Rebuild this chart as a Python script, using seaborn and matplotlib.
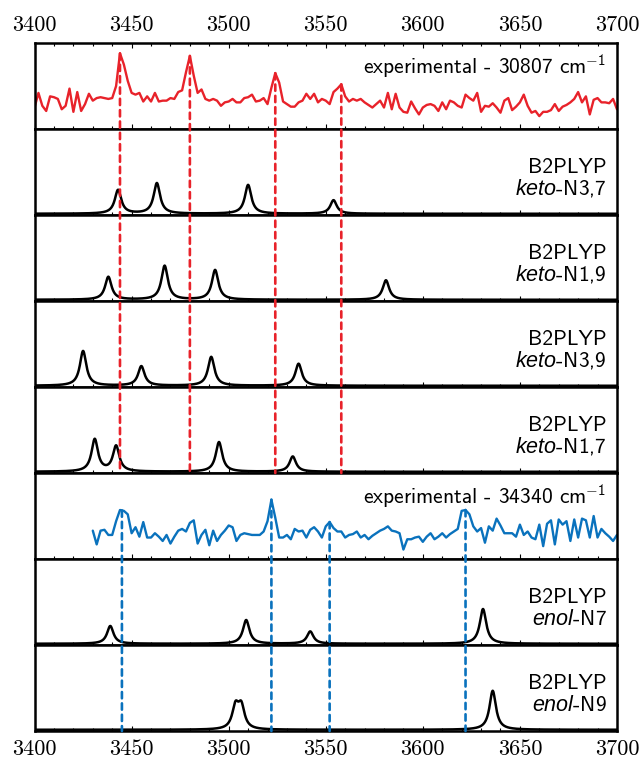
import numpy as np
import matplotlib
matplotlib.use('Agg')
import matplotlib.pyplot as plt
import seaborn as sns
from matplotlib.patches import ConnectionPatch
from matplotlib.ticker import MultipleLocator

# Experimental traces (2 cm-1 grid)
# ========================================================
red_x = np.arange(3400, 3701, 2)
red_y = [0.25, 0.42, 0.27, 0.21, 0.38, 0.37, 0.35, 0.23, 0.27, 0.47,
         0.20, 0.43, 0.21, 0.29, 0.41, 0.33, 0.36, 0.37, 0.36, 0.35,
         0.36, 0.50, 0.88, 0.75, 0.56, 0.42, 0.40, 0.42, 0.32, 0.38,
         0.32, 0.42, 0.32, 0.33, 0.33, 0.36, 0.35, 0.43, 0.45, 0.66,
         0.85, 0.62, 0.42, 0.46, 0.35, 0.33, 0.35, 0.33, 0.27, 0.31,
         0.32, 0.35, 0.31, 0.31, 0.36, 0.37, 0.40, 0.32, 0.33, 0.36,
         0.29, 0.48, 0.65, 0.54, 0.32, 0.29, 0.26, 0.26, 0.31, 0.33,
         0.41, 0.35, 0.41, 0.31, 0.35, 0.33, 0.29, 0.43, 0.47, 0.52,
         0.38, 0.32, 0.35, 0.33, 0.35, 0.31, 0.28, 0.25, 0.29, 0.33,
         0.25, 0.42, 0.23, 0.41, 0.25, 0.20, 0.19, 0.32, 0.24, 0.17,
         0.25, 0.28, 0.29, 0.27, 0.21, 0.31, 0.23, 0.33, 0.31, 0.27,
         0.25, 0.40, 0.36, 0.33, 0.42, 0.20, 0.27, 0.26, 0.30, 0.25,
         0.19, 0.33, 0.36, 0.22, 0.26, 0.31, 0.40, 0.27, 0.19, 0.21,
         0.15, 0.20, 0.20, 0.22, 0.29, 0.21, 0.26, 0.28, 0.31, 0.35,
         0.43, 0.31, 0.38, 0.17, 0.34, 0.36, 0.31, 0.31, 0.30, 0.35,
         0.23]

blue_x = np.arange(3430, 3701, 2)
blue_y = [0.33, 0.17, 0.33, 0.34, 0.28, 0.28, 0.44, 0.57, 0.56, 0.52,
          0.30, 0.37, 0.26, 0.43, 0.25, 0.25, 0.30, 0.26, 0.21, 0.28,
          0.18, 0.26, 0.33, 0.35, 0.32, 0.42, 0.45, 0.18, 0.28, 0.34,
          0.16, 0.33, 0.21, 0.28, 0.33, 0.39, 0.37, 0.21, 0.28, 0.30,
          0.29, 0.28, 0.28, 0.28, 0.32, 0.44, 0.69, 0.48, 0.25, 0.25,
          0.28, 0.23, 0.35, 0.32, 0.33, 0.25, 0.34, 0.37, 0.32, 0.25,
          0.38, 0.43, 0.36, 0.32, 0.32, 0.25, 0.28, 0.29, 0.32, 0.25,
          0.28, 0.23, 0.27, 0.30, 0.33, 0.35, 0.38, 0.33, 0.32, 0.30,
          0.11, 0.23, 0.23, 0.25, 0.26, 0.20, 0.26, 0.30, 0.23, 0.26,
          0.30, 0.25, 0.29, 0.32, 0.35, 0.56, 0.57, 0.52, 0.38, 0.32,
          0.36, 0.19, 0.38, 0.33, 0.47, 0.39, 0.30, 0.30, 0.30, 0.26,
          0.40, 0.28, 0.32, 0.25, 0.23, 0.40, 0.15, 0.41, 0.45, 0.17,
          0.46, 0.40, 0.44, 0.21, 0.46, 0.25, 0.47, 0.45, 0.25, 0.50,
          0.25, 0.35, 0.30, 0.26, 0.21, 0.28]

# Computed B2PLYP bands: positions (cm-1) and relative intensities
# ========================================================
keto_n37_pos = [3443, 3463, 3510, 3554]
keto_n37_int = [0.28, 0.36, 0.34, 0.16]
keto_n19_pos = [3438, 3467, 3493, 3581]
keto_n19_int = [0.27, 0.40, 0.35, 0.23]
keto_n39_pos = [3425, 3455, 3491, 3536]
keto_n39_int = [0.41, 0.23, 0.34, 0.26]
keto_n17_pos = [3431, 3442, 3495, 3533]
keto_n17_int = [0.38, 0.30, 0.35, 0.18]
enol_n7_pos = [3439, 3509, 3542, 3631]
enol_n7_int = [0.21, 0.28, 0.145, 0.41]
enol_n9_pos = [3503.5, 3506.5, 3636]
enol_n9_int = [0.26, 0.26, 0.46]

red_lines = [3444, 3480, 3524, 3558]
blue_lines = [3445, 3522, 3552, 3622]

RED = '#e8222a'
BLUE = '#0a72bd'


def lorentz(x, pos, inten, fwhm=4.0):
    g = fwhm / 2.0
    y = np.zeros_like(x)
    for p, h in zip(pos, inten):
        y += h / (1.0 + ((x - p) / g) ** 2)
    return y


# Style
# ========================================================
sns.set_theme(style='ticks')
plt.rcParams['font.family'] = ['cmss10', 'DejaVu Sans']
plt.rcParams['mathtext.fontset'] = 'custom'
plt.rcParams['mathtext.rm'] = 'cmss10'
plt.rcParams['mathtext.it'] = 'Liberation Sans:italic'
plt.rcParams['text.color'] = 'black'
plt.rcParams['axes.linewidth'] = 1.8

fig, axes = plt.subplots(8, 1, sharex=True, figsize=(6.4, 7.63), dpi=100)
fig.subplots_adjust(left=0.054, right=0.964, top=0.9436, bottom=0.0419, hspace=0)

xs = np.linspace(3400, 3700, 3001)
calc = [
    (keto_n37_pos, keto_n37_int, r'$\mathit{keto}$-N3,7'),
    (keto_n19_pos, keto_n19_int, r'$\mathit{keto}$-N1,9'),
    (keto_n39_pos, keto_n39_int, r'$\mathit{keto}$-N3,9'),
    (keto_n17_pos, keto_n17_int, r'$\mathit{keto}$-N1,7'),
    (enol_n7_pos, enol_n7_int, r'$\mathit{enol}$-N7'),
    (enol_n9_pos, enol_n9_int, r'$\mathit{enol}$-N9'),
]
calc_axes = [axes[1], axes[2], axes[3], axes[4], axes[6], axes[7]]

# experimental panels
sns.lineplot(x=red_x, y=red_y, ax=axes[0], color=RED, lw=1.7, estimator=None)
axes[0].text(0.982, 0.64, r'experimental - 30807 cm$^{-1}$', transform=axes[0].transAxes,
             ha='right', va='baseline', fontsize=15.5, color='black')
sns.lineplot(x=blue_x, y=blue_y, ax=axes[5], color=BLUE, lw=1.7, estimator=None)
axes[5].text(0.982, 0.64, r'experimental - 34340 cm$^{-1}$', transform=axes[5].transAxes,
             ha='right', va='baseline', fontsize=15.5, color='black')
for ax in (axes[0], axes[5]):
    ax.set_ylim(0, 1)

# computed panels
for ax, (pos, inten, lab) in zip(calc_axes, calc):
    sns.lineplot(x=xs, y=lorentz(xs, pos, inten), ax=ax, color='black', lw=1.8, estimator=None)
    ax.set_ylim(-0.015, 1)
    ax.text(0.982, 0.49, 'B2PLYP', transform=ax.transAxes, ha='right', va='baseline',
            fontsize=15.5, color='black')
    ax.text(0.982, 0.233, lab, transform=ax.transAxes, ha='right', va='baseline',
            fontsize=15.5, color='black')

for i, ax in enumerate(axes):
    ax.set_xlim(3400, 3700)
    ax.set_yticks([])
    ax.set_ylabel('')
    ax.xaxis.set_major_locator(MultipleLocator(50))
    ax.xaxis.set_minor_locator(MultipleLocator(10))
    ax.tick_params(axis='x', which='both', direction='in', top=(i == 0), bottom=True,
                   labeltop=(i == 0), labelbottom=(i == 7), width=0.8,
                   labelsize=16, labelfontfamily='cmr10', pad=6, colors='black')
    ax.tick_params(axis='x', which='major', length=3.8)
    ax.tick_params(axis='x', which='minor', length=1.9)
    for s in ax.spines.values():
        s.set_linewidth(1.8)
        s.set_color('black')

# dashed guide lines across panels
for x in red_lines:
    con = ConnectionPatch(xyA=(x, np.interp(x, red_x, red_y)), coordsA='data', axesA=axes[0],
                          xyB=(x, axes[4].get_ylim()[0]), coordsB='data', axesB=axes[4],
                          color=RED, lw=1.9, linestyle=(0, (2.4, 1.9)))
    fig.add_artist(con)
for x in blue_lines:
    con = ConnectionPatch(xyA=(x, np.interp(x, blue_x, blue_y)), coordsA='data', axesA=axes[5],
                          xyB=(x, axes[7].get_ylim()[0]), coordsB='data', axesB=axes[7],
                          color=BLUE, lw=1.9, linestyle=(0, (2.4, 1.9)))
    fig.add_artist(con)

fig.savefig('out.png', dpi=100)
